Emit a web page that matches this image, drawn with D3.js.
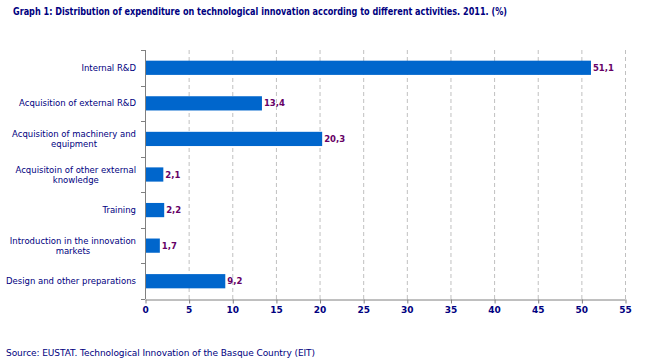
<!DOCTYPE html>
<html>
<head>
<meta charset="utf-8">
<script src="https://cdn.jsdelivr.net/npm/d3@7"></script>
<style>
  body { margin: 0; background: #fff; }
  svg { display: block; font-family: Verdana, "DejaVu Sans", sans-serif; }
</style>
</head>
<body>
<div id="chart"></div>
<script>
const categories = [
    "Internal R&D",
    "Acquisition of external R&D",
    "Acquisition of machinery and|equipment",
    "Acquisitoin of other external|knowledge",
    "Training",
    "Introduction in the innovation|markets",
    "Design and other preparations"
];
const values = [51.1, 13.4, 20.3, 2.1, 2.2, 1.7, 9.2];
const xTicks = [0, 5, 10, 15, 20, 25, 30, 35, 40, 45, 50, 55];

const width = 651, height = 363;
const margin = { top: 50, right: 26, bottom: 64, left: 145 };

const svg = d3.select("#chart").append("svg")
    .attr("width", width)
    .attr("height", height);

// title
svg.append("text")
    .attr("x", 13)
    .attr("y", 15)
    .attr("fill", "#000080")
    .attr("font-size", "10px")
    .attr("font-weight", "bold")
    .attr("textLength", 494)
    .attr("lengthAdjust", "spacingAndGlyphs")
    .text("Graph 1: Distribution of expenditure on technological innovation according to different activities. 2011. (%)");

const x = d3.scaleLinear()
    .domain([0, 55])
    .range([margin.left, width - margin.right]);

const y = d3.scaleBand()
    .domain(categories)
    .range([margin.top, height - margin.bottom])
    .paddingInner(0.6)
    .paddingOuter(0.3);

// gridlines
svg.append("g")
    .selectAll("line")
    .data(xTicks.slice(1))
    .join("line")
    .attr("x1", d => x(d) + 0.5)
    .attr("x2", d => x(d) + 0.5)
    .attr("y1", margin.top)
    .attr("y2", height - margin.bottom)
    .attr("stroke", "#c0c0c0")
    .attr("stroke-dasharray", "4,3");

// bars
svg.append("g")
    .selectAll("rect")
    .data(values)
    .join("rect")
    .attr("x", x(0))
    .attr("y", (d, i) => y(categories[i]))
    .attr("width", d => x(d) - x(0))
    .attr("height", y.bandwidth())
    .attr("fill", "#0066cc");

// value labels
svg.append("g")
    .selectAll("text")
    .data(values)
    .join("text")
    .attr("x", d => x(d) + 2)
    .attr("y", (d, i) => y(categories[i]) + y.bandwidth() / 2 + 3)
    .attr("fill", "#660066")
    .attr("font-size", "8.5px")
    .attr("font-weight", "bold")
    .text(d => d3.format(".1f")(d).replace(".", ","));

// x axis
const xAxis = svg.append("g")
    .attr("transform", `translate(0,${height - margin.bottom + 0.5})`)
    .call(d3.axisBottom(x).tickValues(xTicks).tickSize(4).tickSizeOuter(0));
xAxis.select(".domain").attr("stroke", "#808080");
xAxis.selectAll(".tick line").attr("stroke", "#808080").attr("transform", "translate(0.5,0)");
xAxis.selectAll(".tick text")
    .attr("fill", "#000080")
    .attr("font-size", "9px")
    .attr("font-weight", "bold")
    .attr("font-family", "Verdana, 'DejaVu Sans', sans-serif")
    .attr("dy", "0.9em")
    .attr("y", 5);

// y axis line with ticks between categories
const yEdges = d3.range(categories.length + 1).map(i => margin.top + i * (height - margin.top - margin.bottom) / categories.length);
svg.append("line")
    .attr("x1", x(0) + 0.5).attr("x2", x(0) + 0.5)
    .attr("y1", margin.top).attr("y2", height - margin.bottom)
    .attr("stroke", "#808080");
svg.append("g")
    .selectAll("line")
    .data(yEdges)
    .join("line")
    .attr("x1", x(0) - 4).attr("x2", x(0))
    .attr("y1", d => Math.round(d) + 0.5).attr("y2", d => Math.round(d) + 0.5)
    .attr("stroke", "#808080");

// category labels
const labelRight = x(0) - 9;
const labelSize = "8.5px";
const labels = svg.append("g");
categories.forEach((c, i) => {
    const lines = c.split("|");
    const cy = y(c) + y.bandwidth() / 2;
    const t = labels.append("text")
        .attr("fill", "#000080")
        .attr("font-size", labelSize);
    if (lines.length === 1) {
        t.attr("x", labelRight).attr("y", cy + 3).attr("text-anchor", "end").text(c);
    } else {
        // measure the widest line, centre all lines on it
        const probe = labels.append("text").attr("font-size", labelSize).text(lines[0]);
        const w = probe.node().getComputedTextLength();
        probe.remove();
        const center = labelRight - w / 2;
        t.attr("text-anchor", "middle");
        lines.forEach((l, j) => {
            t.append("tspan")
                .attr("x", center)
                .attr("y", cy - 2 + j * 10)
                .text(l);
        });
    }
});

// source
svg.append("text")
    .attr("x", 6)
    .attr("y", 356)
    .attr("fill", "#000080")
    .attr("font-size", "9px")
    .attr("textLength", 309)
    .attr("lengthAdjust", "spacing")
    .text("Source: EUSTAT. Technological Innovation of the Basque Country (EIT)");
</script>
</body>
</html>
